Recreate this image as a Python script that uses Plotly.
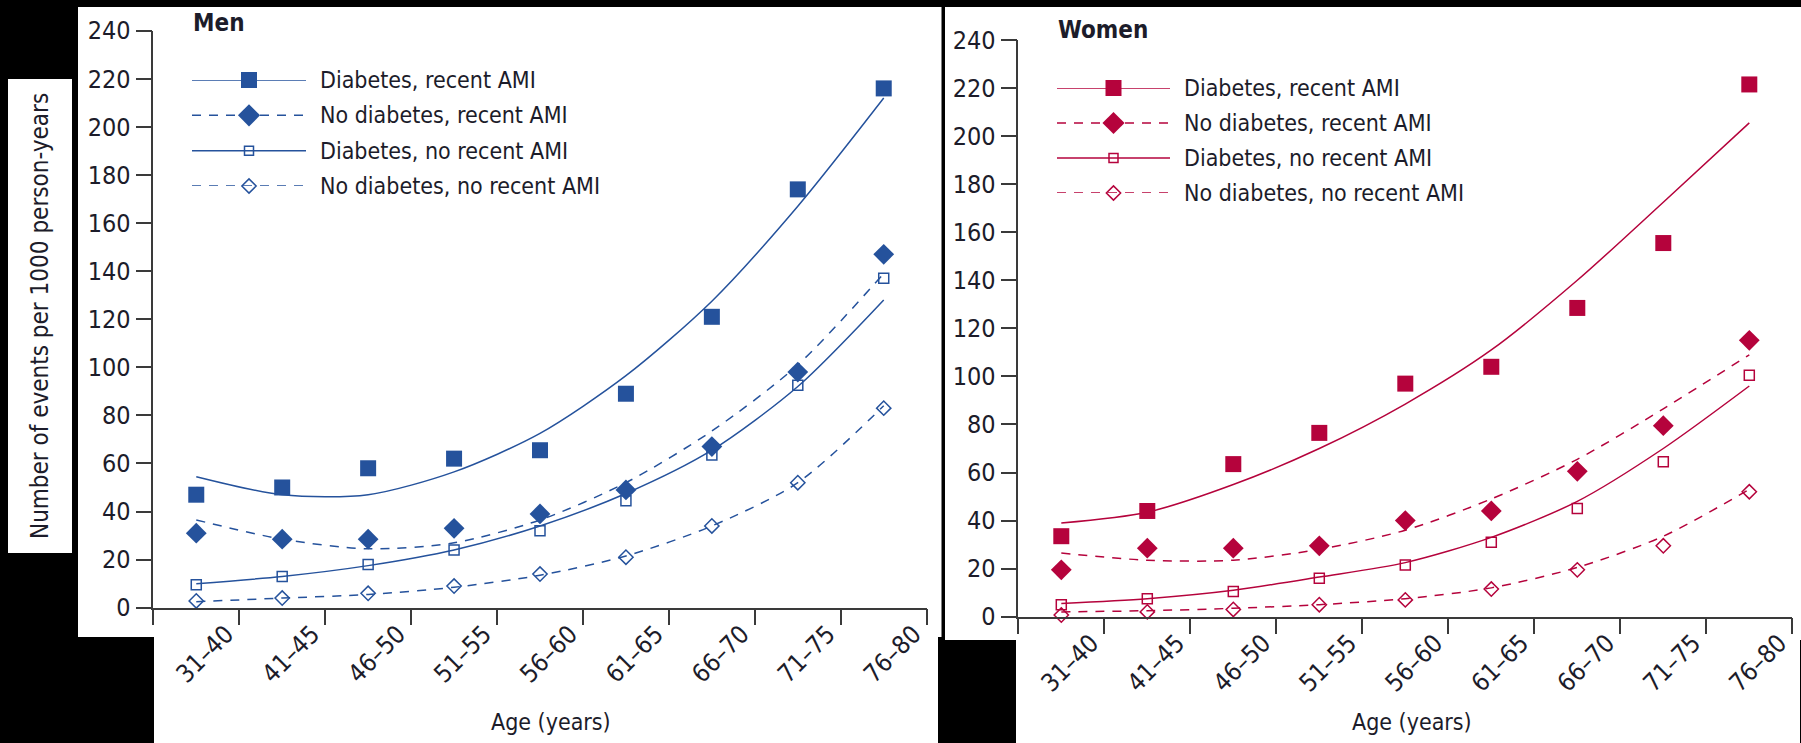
import plotly.graph_objects as go

# ---------------- data ----------------
AGE_GROUPS = ["31–40", "41–45", "46–50", "51–55", "56–60", "61–65", "66–70", "71–75", "76–80"]
SERIES = ["Diabetes, recent AMI", "No diabetes, recent AMI",
          "Diabetes, no recent AMI", "No diabetes, no recent AMI"]

# Men – observed rates (markers)
MEN_DIAB_RECENT_OBS = [47, 50, 58, 62, 65.5, 89, 121, 174, 216]
MEN_NODIAB_RECENT_OBS = [31, 28.5, 28.5, 33, 39, 49, 67, 98, 147]
MEN_DIAB_NOREC_OBS = [9.5, 13, 18, 24, 32, 44.5, 63.5, 92.5, 137]
MEN_NODIAB_NOREC_OBS = [2.8, 4, 6, 9, 14, 21, 34, 52, 83]
# Men – fitted rates (lines)
MEN_DIAB_RECENT_FIT = [54.5, 47, 47, 56.5, 72.5, 96.5, 127.5, 167, 212]
MEN_NODIAB_RECENT_FIT = [36.5, 28.5, 24.5, 27, 36.5, 52, 73.5, 101, 139]
MEN_DIAB_NOREC_FIT = [10, 13, 17.5, 24, 34, 47.5, 65.5, 92, 128]
MEN_NODIAB_NOREC_FIT = [2.5, 4, 5.5, 8.5, 13.5, 21.5, 34, 52, 84]

# Women – observed rates (markers)
WOMEN_DIAB_RECENT_OBS = [33.5, 44, 63.5, 76.5, 97, 104, 128.5, 155.5, 221.5]
WOMEN_NODIAB_RECENT_OBS = [19.5, 28.5, 28.5, 29.5, 40, 44, 60.5, 79.5, 115]
WOMEN_DIAB_NOREC_OBS = [5, 7.5, 10.5, 16, 21.5, 31, 45, 64.5, 100.5]
WOMEN_NODIAB_NOREC_OBS = [0.7, 2, 3, 5, 7, 11.5, 19.5, 29.5, 52]
# Women – fitted rates (lines)
WOMEN_DIAB_RECENT_FIT = [39, 43.5, 55, 70, 88.5, 111, 140, 172.5, 205.5]
WOMEN_NODIAB_RECENT_FIT = [26.5, 23.5, 23.5, 28, 36, 49, 65.5, 86.5, 109]
WOMEN_DIAB_NOREC_FIT = [5.5, 7.5, 11, 16.5, 22.5, 33, 48, 70, 96]
WOMEN_NODIAB_NOREC_FIT = [2, 2.5, 3.5, 5, 7.5, 12, 20.5, 33.5, 53]

Y_TICKS = list(range(0, 241, 20))

# ---------------- styling ----------------
W, H = 1801, 743
BLUE = "#25529c"
RED = "#b5033c"
AXIS = "#3a3a3a"
TXT = "#1c1c2a"
FONT = "DejaVu Sans Condensed, DejaVu Sans, sans-serif"
DASH = "9px,8px"

STYLES = [
    dict(symbol="square", size=16, leg=16, dash="solid", lw=0),
    dict(symbol="diamond", size=16, leg=17, dash=DASH, lw=0),
    dict(symbol="square-open", size=10, leg=9, dash="solid", lw=1.5),
    dict(symbol="diamond-open", size=11, leg=11, dash=DASH, lw=1.5),
]


def px_x(p):
    return p / W


def px_y(p):
    return (H - p) / H


fig = go.Figure()

panels = [
    ("x", "y", BLUE,
     [MEN_DIAB_RECENT_OBS, MEN_NODIAB_RECENT_OBS, MEN_DIAB_NOREC_OBS, MEN_NODIAB_NOREC_OBS],
     [MEN_DIAB_RECENT_FIT, MEN_NODIAB_RECENT_FIT, MEN_DIAB_NOREC_FIT, MEN_NODIAB_NOREC_FIT]),
    ("x2", "y2", RED,
     [WOMEN_DIAB_RECENT_OBS, WOMEN_NODIAB_RECENT_OBS, WOMEN_DIAB_NOREC_OBS, WOMEN_NODIAB_NOREC_OBS],
     [WOMEN_DIAB_RECENT_FIT, WOMEN_NODIAB_RECENT_FIT, WOMEN_DIAB_NOREC_FIT, WOMEN_NODIAB_NOREC_FIT]),
]

for xa, ya, col, obs, fit in panels:
    for i, vals in enumerate(fit):
        st = STYLES[i]
        fig.add_trace(go.Scatter(
            x=AGE_GROUPS, y=vals, mode="lines", xaxis=xa, yaxis=ya,
            line=dict(color=col, width=1.5, dash=st["dash"], shape="spline", smoothing=0.8),
            showlegend=False, hoverinfo="skip"))
    for i, vals in enumerate(obs):
        st = STYLES[i]
        fig.add_trace(go.Scatter(
            x=AGE_GROUPS, y=vals, mode="markers", xaxis=xa, yaxis=ya, name=SERIES[i],
            marker=dict(symbol=st["symbol"], size=st["size"], color=col,
                        line=dict(color=col, width=st["lw"])),
            cliponaxis=False, showlegend=False))

# legend keys drawn on hidden helper axes
for xa, ya, col in [("x3", "y3", BLUE), ("x4", "y4", RED)]:
    for i, name in enumerate(SERIES):
        st = STYLES[i]
        fig.add_trace(go.Scatter(
            x=[0, 0.5, 1], y=[i, i, i], mode="lines+markers", xaxis=xa, yaxis=ya,
            line=dict(color=col, width=1.5, dash=st["dash"]),
            marker=dict(symbol=st["symbol"], size=st["leg"], color=col,
                        opacity=[0, 1, 0], line=dict(color=col, width=st["lw"])),
            cliponaxis=False, showlegend=False, hoverinfo="skip"))
        fig.add_annotation(x=1, y=i, xref=xa, yref=ya, text=name, showarrow=False,
                           xanchor="left", yanchor="middle", xshift=12,
                           font=dict(family=FONT, size=23, color=TXT))


def xaxis_cfg(x0, x1, anchor):
    return dict(domain=[px_x(x0), px_x(x1)], anchor=anchor, type="category",
                categoryorder="array", categoryarray=AGE_GROUPS, range=[-0.5, 8.5],
                showline=True, linecolor=AXIS, linewidth=1.5, ticks="outside",
                tickson="boundaries", ticklen=16, tickwidth=1.5, tickcolor=AXIS,
                tickangle=-45, ticklabelshift=30, automargin=False,
                tickfont=dict(family=FONT, size=25, color=TXT),
                showgrid=False, zeroline=False, fixedrange=True)


def yaxis_cfg(top, bottom, anchor):
    return dict(domain=[px_y(bottom), px_y(top)], anchor=anchor, range=[0, 240],
                tickmode="array", tickvals=Y_TICKS, ticktext=[str(v) for v in Y_TICKS],
                showline=True, linecolor=AXIS, linewidth=1.5, ticks="outside",
                ticklen=16, tickwidth=1.5, tickcolor=AXIS, automargin=False,
                tickfont=dict(family=FONT, size=25, color=TXT),
                showgrid=False, zeroline=False, fixedrange=True)


def hidden_axis(d0, d1, anchor, rng):
    return dict(domain=[d0, d1], anchor=anchor, range=rng, visible=False,
                fixedrange=True, automargin=False)


shapes = []
for (x0, y0, x1, y1) in [(78, 7, 941.5, 637), (154, 636, 938, 743), (8, 79, 72, 553),
                         (945, 7, 1801, 640), (1016, 639, 1800, 743)]:
    shapes.append(dict(type="rect", xref="paper", yref="paper", layer="below",
                       x0=px_x(x0), x1=px_x(x1), y0=px_y(y1), y1=px_y(y0),
                       fillcolor="white", line=dict(width=0)))

annotations = [
    dict(text="<b>Men</b>", x=px_x(191), y=px_y(23), xanchor="left", yanchor="middle", size=24),
    dict(text="<b>Women</b>", x=px_x(1056), y=px_y(30), xanchor="left", yanchor="middle", size=24),
    dict(text="Number of events per 1000 person-years", x=px_x(40), y=px_y(316),
         xanchor="center", yanchor="middle", textangle=-90, size=24),
    dict(text="Age (years)", x=px_x(551), y=px_y(722), xanchor="center", yanchor="middle", size=23),
    dict(text="Age (years)", x=px_x(1412), y=px_y(722), xanchor="center", yanchor="middle", size=23),
]
for a in annotations:
    sz = a.pop("size")
    a.update(xref="paper", yref="paper", showarrow=False,
             font=dict(family=FONT, size=sz, color=TXT))

fig.update_layout(
    width=W, height=H, margin=dict(l=0, r=0, t=0, b=0, pad=0, autoexpand=False),
    paper_bgcolor="black", plot_bgcolor="rgba(0,0,0,0)",
    showlegend=False, shapes=shapes,
    annotations=list(fig.layout.annotations) + annotations,
    xaxis=xaxis_cfg(153.3, 926.7, "y"),
    yaxis=yaxis_cfg(30.7, 607.7, "x"),
    xaxis2=xaxis_cfg(1018.3, 1792.3, "y2"),
    yaxis2=yaxis_cfg(40, 616.7, "x2"),
    xaxis3=hidden_axis(px_x(192), px_x(306), "y3", [0, 1]),
    yaxis3=hidden_axis(px_y(186), px_y(80), "x3", [3, 0]),
    xaxis4=hidden_axis(px_x(1057), px_x(1170), "y4", [0, 1]),
    yaxis4=hidden_axis(px_y(193), px_y(88), "x4", [3, 0]),
)

# remove the default page margin so the figure sits at the top-left corner
PAGE_JS = (
    "var d=document.documentElement,b=document.body;"
    "[d,b].forEach(function(e){e.style.margin='0';e.style.padding='0';e.style.overflow='hidden';});"
    "b.style.background='black';"
)
fig.write_html("out.html", config={"displayModeBar": False}, post_script=PAGE_JS)
